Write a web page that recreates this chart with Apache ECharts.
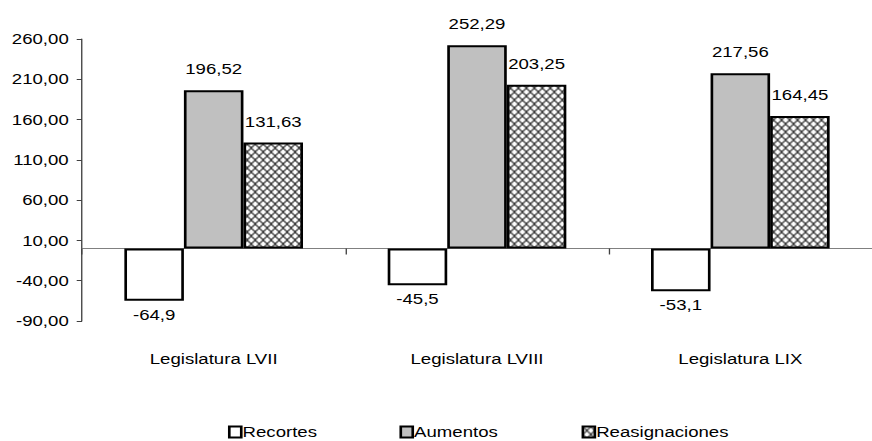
<!DOCTYPE html>
<html>
<head>
<meta charset="utf-8">
<script src="https://cdn.jsdelivr.net/npm/echarts@6/dist/echarts.min.js"></script>
<style>
  html, body { margin: 0; padding: 0; background: #fff; overflow: hidden; }
  #wrap { width: 872px; height: 441px; overflow: hidden; }
  /* the chart is laid out narrower and stretched horizontally */
  #chart { width: 656px; height: 441px; transform-origin: 0 0; transform: scaleX(1.32927); }
</style>
</head>
<body>
<div id="wrap"><div id="chart"></div></div>
<script>
// Budget changes per legislature
const categories = ['Legislatura LVII', 'Legislatura LVIII', 'Legislatura LIX'];
const recortes = [-64.9, -45.5, -53.1];
const aumentos = [196.52, 252.29, 217.56];
const reasignaciones = [131.63, 203.25, 164.45];

const FONT = 'Liberation Sans, Arial, sans-serif';

// Diamond cross-hatch fill for the "Reasignaciones" bars
function makeHatch() {
  const w = 6, h = 8;
  const c = document.createElement('canvas');
  c.width = w; c.height = h;
  const ctx = c.getContext('2d');
  ctx.fillStyle = '#fff';
  ctx.fillRect(0, 0, w, h);
  ctx.strokeStyle = '#333';
  ctx.lineWidth = 1.1;
  ctx.beginPath();
  ctx.moveTo(0, 0); ctx.lineTo(w, h);
  ctx.moveTo(w, 0); ctx.lineTo(0, h);
  ctx.stroke();
  return c;
}
const hatch = { image: makeHatch(), repeat: 'repeat' };

const fmt = v => String(v).replace('.', ',');

// Positive bars carry their label above, negative ones below
function withLabels(values) {
  return values.map(v => ({
    value: v,
    label: v < 0 ? { position: 'bottom', distance: 7 } : { position: 'top', distance: 14 }
  }));
}

function barSeries(name, values, color) {
  return {
    name: name,
    type: 'bar',
    xAxisIndex: 0,
    barWidth: 44.8,
    barGap: '0%',
    data: withLabels(values),
    itemStyle: { color: color, borderColor: '#000', borderWidth: 2 },
    label: {
      show: true,
      formatter: p => fmt(p.value),
      color: '#000',
      fontFamily: FONT,
      fontSize: 14
    },
    emphasis: { disabled: true }
  };
}

const chart = echarts.init(document.getElementById('chart'), null, { renderer: 'svg' });

function legendAt(name, left) {
  return {
    data: [name],
    left: left,
    top: 425,
    icon: 'rect',
    itemWidth: 9,
    itemHeight: 11,
    itemGap: 0,
    padding: 0,
    itemStyle: { borderColor: '#000', borderWidth: 2 },
    textStyle: { fontFamily: FONT, fontSize: 14, color: '#000', padding: [0, 0, 0, -4] },
    selectedMode: false
  };
}

chart.setOption({
  animation: false,
  backgroundColor: '#fff',
  textStyle: { fontFamily: FONT },
  grid: { left: 61.7, top: 39, width: 600.3, height: 282, containLabel: false },
  legend: [
    legendAt('Recortes', 171.5),
    legendAt('Aumentos', 300.5),
    legendAt('Reasignaciones', 437.5)
  ],
  xAxis: [
    {
      type: 'category',
      data: categories,
      axisLine: { onZero: true, lineStyle: { color: '#808080', width: 1 } },
      axisTick: { show: true, length: 6, lineStyle: { color: '#404040' } },
      axisLabel: { show: false }
    },
    {
      type: 'category',
      data: categories,
      position: 'bottom',
      axisLine: { show: false, onZero: false },
      axisTick: { show: false },
      axisLabel: { show: true, margin: 31, fontFamily: FONT, fontSize: 14, color: '#000' }
    }
  ],
  yAxis: {
    type: 'value',
    min: -90,
    max: 260,
    interval: 50,
    axisLine: { show: true, lineStyle: { color: '#404040' } },
    axisTick: { show: true, length: 4, lineStyle: { color: '#404040' } },
    splitLine: { show: false },
    axisLabel: {
      margin: 10,
      fontFamily: FONT,
      fontSize: 14,
      color: '#000',
      formatter: v => v.toFixed(2).replace('.', ',')
    }
  },
  series: [
    barSeries('Recortes', recortes, '#ffffff'),
    barSeries('Aumentos', aumentos, '#c0c0c0'),
    barSeries('Reasignaciones', reasignaciones, hatch)
  ]
});
</script>
</body>
</html>
